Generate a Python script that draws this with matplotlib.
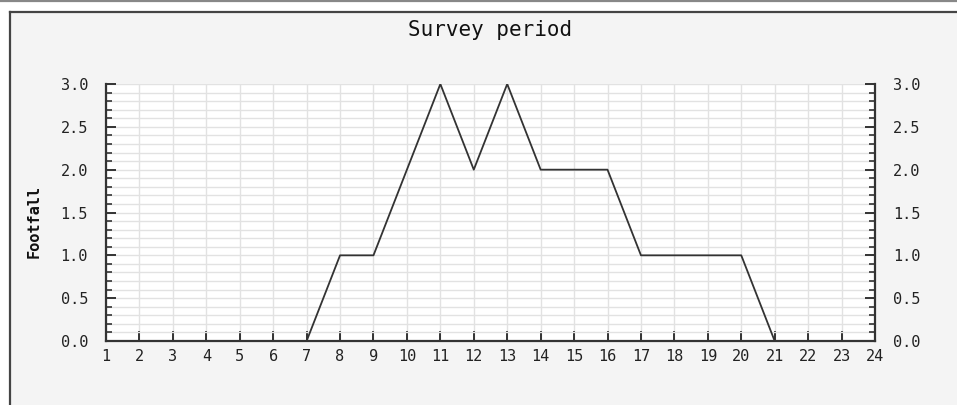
# Survey period grafigi: saatlere gore footfall
import matplotlib.pyplot as plt
from matplotlib.patches import Rectangle
from matplotlib.lines import Line2D
from matplotlib.ticker import MultipleLocator

# veriler
saatler = [7, 8, 9, 10, 11, 12, 13, 14, 15, 16, 17, 18, 19, 20, 21]
footfall = [0, 1, 1, 2, 3, 2, 3, 2, 2, 2, 1, 1, 1, 1, 0]
x_etiketleri = list(range(1, 25))
baslik = "Survey period"
y_etiketi = "Footfall"

W, H = 957, 405
plt.rcParams["font.family"] = ["DejaVu Sans Mono"]

fig = plt.figure(figsize=(W / 100, H / 100), dpi=100, facecolor="white")

# panel arka plani ve kenarlar
fig.patches.append(Rectangle((10 / W, 0), 1 - 10 / W, (H - 12) / H,
                             transform=fig.transFigure, facecolor="#f4f4f4",
                             edgecolor="none", zorder=-5))
fig.lines.append(Line2D([0, 1], [1 - 0.8 / H, 1 - 0.8 / H], transform=fig.transFigure,
                        color="#888888", linewidth=1.6, zorder=-4))
fig.lines.append(Line2D([9.5 / W, 1], [(H - 12) / H, (H - 12) / H], transform=fig.transFigure,
                        color="#444444", linewidth=1.6, zorder=-4))
fig.lines.append(Line2D([10 / W, 10 / W], [0, (H - 12) / H], transform=fig.transFigure,
                        color="#444444", linewidth=1.6, zorder=-4))

sol, sag, ust, alt = 106, 875, 84, 341
ax = fig.add_axes([sol / W, (H - alt) / H, (sag - sol) / W, (alt - ust) / H])
ax.set_facecolor("white")

ax.plot(saatler, footfall, color="#333333", linewidth=1.3, zorder=3)

ax.set_xlim(1, 24)
ax.set_ylim(0, 3)
ax.set_xticks(x_etiketleri)
ax.yaxis.set_major_locator(MultipleLocator(0.5))
ax.yaxis.set_minor_locator(MultipleLocator(0.1))
ax.yaxis.set_major_formatter(plt.FormatStrFormatter("%.1f"))

ax.grid(which="both", axis="y", color="#e2e2e2", linewidth=1.0)
ax.grid(which="major", axis="x", color="#e2e2e2", linewidth=1.0)
ax.set_axisbelow(True)

ax.spines["top"].set_visible(False)
for k in ["left", "right", "bottom"]:
    ax.spines[k].set_color("#333333")
    ax.spines[k].set_linewidth(1.6)

ax.tick_params(axis="y", which="major", direction="in", length=7, width=1.4,
               left=True, right=True, labelleft=True, labelright=True,
               labelsize=11, pad=13, colors="#333333", labelcolor="#222222")
ax.tick_params(axis="y", which="minor", direction="in", length=4, width=1.2,
               left=True, right=True, colors="#333333")
ax.tick_params(axis="x", which="major", direction="in", length=7, width=1.4,
               labelsize=11, pad=6, colors="#333333", labelcolor="#222222")

fig.text(490 / W, 1 - 30 / H, baslik, ha="center", va="center", fontsize=15, color="#111111")
fig.text(34 / W, 1 - 222 / H, y_etiketi, ha="center", va="center", rotation=90,
         fontsize=11, fontweight="bold", color="#111111")

fig.savefig("out.png", dpi=100)
